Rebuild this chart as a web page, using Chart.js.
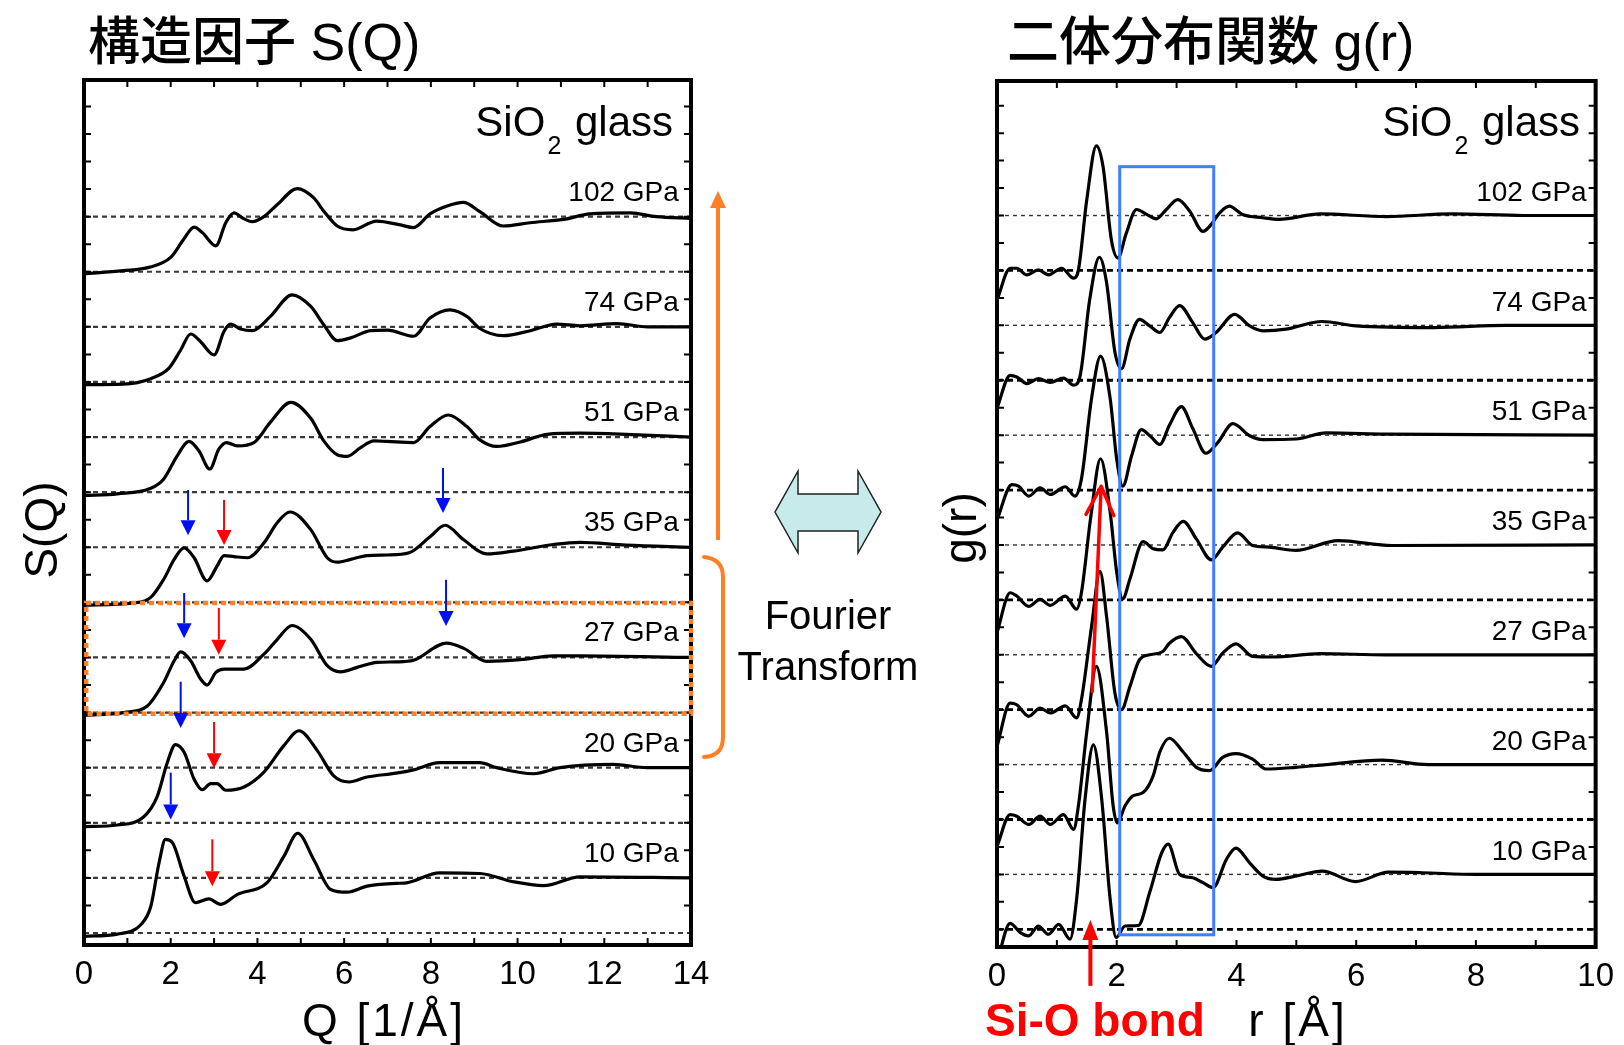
<!DOCTYPE html>
<html lang="ja">
<head>
<meta charset="utf-8">
<script src="https://cdn.jsdelivr.net/npm/chart.js@4.4.1/dist/chart.umd.min.js"></script>
<style>
  html, body { margin: 0; padding: 0; background: #fff; }
  #wrap { position: relative; width: 1624px; height: 1045px; overflow: hidden;
          font-family: "Liberation Sans", Arial, "Noto Sans CJK JP", sans-serif; color: #000; }
  canvas { position: absolute; left: 0; top: 0; }
  svg { position: absolute; left: 0; top: 0; pointer-events: none; }
  .t { position: absolute; white-space: nowrap; }
  .title { font-size: 52px; line-height: 52px; top: 12px; font-family: "Liberation Sans", "Noto Sans CJK JP", sans-serif; }
  .title b { font-weight: 500; font-family: "Noto Sans CJK JP", sans-serif; }
  .glass { font-size: 42px; line-height: 42px; top: 101px; }
  .glass span { font-size: 25px; position: relative; top: 18px; margin: 0 2px 0 2px; }
  .axt { font-size: 46px; line-height: 46px; top: 997px; width: 240px; text-align: center; letter-spacing: 3px; }
  .yt { font-size: 46px; line-height: 46px; width: 200px; text-align: center; transform: rotate(-90deg); }
</style>
</head>
<body>
<div id="wrap">
  <canvas id="sq" width="1624" height="1045"></canvas>
  <canvas id="gr" width="1624" height="1045"></canvas>

  <svg width="1624" height="1045" viewBox="0 0 1624 1045">
    <!-- Fourier transform double arrow -->
    <polygon points="775,512 798,471 798,494 858,494 858,471 881,512 858,553 858,531 798,531 798,553"
             fill="#c6ebea" stroke="#222" stroke-width="1.5" stroke-linejoin="miter"/>
    <!-- orange range arrow -->
    <line x1="718" y1="540" x2="718" y2="206" stroke="#ff7f27" stroke-width="4"/>
    <polygon points="718,191 710,208 726,208" fill="#ff7f27"/>
    <!-- orange brace -->
    <path d="M704,557 Q723,559 723,577 L723,737 Q723,756 704,757" fill="none" stroke="#ff7f27" stroke-width="4" stroke-linecap="round"/>
  </svg>

  <div class="t title" style="left:88px;"><b>構造因子</b> S(Q)</div>
  <div class="t title" style="left:1007px;"><b>二体分布関数</b> g(r)</div>

  <div class="t glass" style="right:951px;">SiO<span>2</span> glass</div>
  <div class="t glass" style="right:44px;">SiO<span>2</span> glass</div>

  <div class="t" style="left:708px;top:590px;width:240px;text-align:center;font-size:40px;line-height:51px;">Fourier<br>Transform</div>

  <div class="t axt" style="left:264px;">Q [1/Å]</div>
  <div class="t axt" style="left:1178px;">r [Å]</div>
  <div class="t" style="left:985px;top:997px;font-size:46px;line-height:46px;font-weight:bold;color:#f00;">Si-O bond</div>

  <div class="t yt" style="left:-59px;top:507px;">S(Q)</div>
  <div class="t yt" style="left:860px;top:505px;">g(r)</div>
</div>

<script>
// Pressures, top to bottom, and vertical offset of each curve
const pressures = ["102 GPa", "74 GPa", "51 GPa", "35 GPa", "27 GPa", "20 GPa", "10 GPa"];
const offsets = [12, 10, 8, 6, 4, 2, 0];

// Tick labels
const qTicks = [0, 2, 4, 6, 8, 10, 12, 14];
const rTicks = [0, 2, 4, 6, 8, 10];

// Structure factor S(Q): [Q, S]
const sq102 = [[0,-0.04],[0.9,0.02],[1.5,0.08],[2.0,0.26],[2.3,0.59],[2.54,0.81],[2.73,0.71],[3.04,0.47],[3.27,0.89],[3.46,1.07],[3.65,0.98],[3.88,0.91],[4.15,1.0],[4.46,1.22],[4.92,1.51],[5.3,1.34],[5.53,1.1],[5.84,0.83],[6.2,0.76],[6.75,0.92],[7.3,0.85],[7.6,0.8],[7.98,1.05],[8.36,1.19],[8.75,1.26],[9.13,1.09],[9.67,0.83],[10.29,0.89],[11.06,0.95],[11.67,1.05],[12.6,1.07],[13.2,1.0],[14,0.97]];
const sq74 = [[0,-0.05],[0.9,-0.04],[1.54,0.06],[1.96,0.25],[2.23,0.58],[2.46,0.87],[2.69,0.73],[3.0,0.49],[3.23,0.92],[3.38,1.05],[3.61,0.96],[3.88,0.93],[4.3,1.19],[4.8,1.58],[5.23,1.37],[5.53,1.04],[5.84,0.75],[6.15,0.8],[6.61,0.93],[7.0,0.94],[7.6,0.83],[7.98,1.16],[8.44,1.31],[8.83,1.19],[9.13,0.97],[9.67,0.84],[10.29,0.93],[10.9,1.05],[11.44,1.02],[12.3,1.06],[13,1.0],[14,1.0]];
const sq51 = [[0,-0.06],[0.77,-0.03],[1.54,0.07],[1.84,0.24],[2.15,0.66],[2.42,0.92],[2.65,0.75],[2.9,0.42],[3.11,0.78],[3.29,0.9],[3.54,0.84],[3.92,0.9],[4.3,1.27],[4.77,1.63],[5.23,1.34],[5.53,0.93],[5.84,0.68],[6.07,0.65],[6.38,0.81],[6.69,0.93],[7.0,0.92],[7.6,0.9],[7.98,1.19],[8.4,1.4],[8.83,1.19],[9.13,0.95],[9.52,0.83],[10.06,0.91],[10.68,1.05],[11.44,1.07],[12.5,1.05],[14,1.0]];
const sq35 = [[0,-0.05],[1.15,-0.01],[1.54,0.09],[1.84,0.42],[2.08,0.78],[2.31,0.99],[2.54,0.81],[2.84,0.39],[3.07,0.66],[3.23,0.85],[3.46,0.83],[3.77,0.81],[4.15,1.08],[4.46,1.45],[4.75,1.64],[5.23,1.32],[5.61,0.81],[5.84,0.73],[6.15,0.78],[6.53,0.85],[7.0,0.86],[7.5,0.9],[7.98,1.19],[8.33,1.4],[8.75,1.14],[9.29,0.88],[9.9,0.93],[10.83,1.05],[11.44,1.09],[12.5,1.04],[14,1.0]];
const sq27 = [[0,-0.05],[0.92,0],[1.46,0.12],[1.84,0.55],[2.08,0.94],[2.23,1.1],[2.46,0.94],[2.69,0.61],[2.84,0.5],[3.04,0.73],[3.23,0.79],[3.69,0.79],[4.15,1.06],[4.46,1.33],[4.8,1.58],[5.23,1.33],[5.61,0.85],[5.92,0.74],[6.3,0.82],[6.76,0.91],[7.2,0.92],[7.6,0.95],[8.36,1.26],[8.75,1.17],[9.29,0.93],[10.06,0.96],[10.83,1.03],[11.44,1.03],[14,1.0]];
const sq20 = [[0,-0.07],[0.77,-0.04],[1.38,0.11],[1.69,0.48],[1.92,1.09],[2.11,1.42],[2.31,1.28],[2.54,0.79],[2.73,0.6],[2.92,0.71],[3.07,0.71],[3.27,0.59],[3.69,0.65],[4.15,0.92],[4.61,1.4],[4.96,1.67],[5.38,1.31],[5.76,0.85],[6.11,0.74],[6.53,0.83],[7.2,0.9],[7.6,0.96],[8.2,1.09],[9.13,1.09],[9.52,1.0],[10.37,0.89],[10.98,1.0],[12.21,1.06],[12.98,1.0],[14,1.0]];
const sq10 = [[0,-0.06],[0.77,-0.02],[1.31,0.15],[1.54,0.48],[1.73,1.27],[1.88,1.7],[2.04,1.64],[2.31,1.03],[2.57,0.55],[2.88,0.62],[3.15,0.52],[3.54,0.7],[4.23,0.92],[4.61,1.39],[4.93,1.81],[5.3,1.33],[5.69,0.79],[6.07,0.74],[6.53,0.85],[7.2,0.9],[7.44,0.91],[8.2,1.09],[9.13,1.08],[9.9,0.93],[10.6,0.86],[11.44,1.02],[14,1.0]];

// Pair distribution function g(r): [r, g]
const gr102 = [[0,-0.54],[0.22,0.04],[0.33,0.04],[0.5,-0.08],[0.69,0.01],[0.86,-0.08],[1.08,0.04],[1.28,-0.14],[1.36,0.01],[1.5,1.29],[1.66,2.27],[1.77,1.9],[1.91,0.56],[2.02,0.23],[2.16,0.68],[2.33,1.11],[2.5,1.02],[2.66,0.94],[2.83,1.11],[3.02,1.29],[3.22,1.08],[3.44,0.71],[3.58,0.84],[3.72,1.05],[3.88,1.17],[4.1,1.02],[4.44,0.96],[4.71,0.93],[5.4,1.03],[6.5,0.98],[7.6,1.03],[8.8,1.0],[10,1.0]];
const gr74 = [[0,-0.51],[0.22,0.09],[0.33,0.06],[0.5,-0.06],[0.69,0.03],[0.89,-0.04],[1.11,0.04],[1.28,-0.09],[1.39,0.09],[1.55,1.48],[1.71,2.24],[1.83,1.78],[1.97,0.51],[2.08,0.21],[2.22,0.75],[2.38,1.11],[2.55,0.99],[2.72,0.87],[2.88,1.14],[3.05,1.36],[3.27,1.05],[3.47,0.75],[3.66,0.87],[3.97,1.2],[4.22,0.99],[4.44,0.9],[4.83,0.93],[5.43,1.07],[6.0,0.99],[7.3,0.96],[8.5,1.0],[10,1.0]];
const gr51 = [[0,-0.54],[0.25,0.1],[0.36,0.07],[0.53,-0.11],[0.72,0.04],[0.89,-0.08],[1.14,0.06],[1.3,-0.11],[1.41,0.2],[1.58,1.67],[1.73,2.44],[1.89,1.67],[2.0,0.56],[2.1,0.07],[2.25,0.63],[2.41,1.1],[2.58,0.96],[2.72,0.83],[2.88,1.18],[3.08,1.52],[3.27,1.12],[3.49,0.67],[3.69,0.87],[3.94,1.21],[4.22,0.99],[4.44,0.92],[4.99,0.93],[5.5,1.04],[6.5,1.02],[10,1.0]];
const gr35 = [[0,-0.6],[0.22,0.13],[0.33,0.07],[0.53,-0.12],[0.72,0.01],[0.89,-0.1],[1.14,0.07],[1.33,-0.17],[1.41,0.13],[1.57,1.54],[1.73,2.57],[1.89,1.6],[2.0,0.5],[2.1,0.02],[2.22,0.38],[2.44,1.06],[2.61,0.93],[2.77,0.91],[2.94,1.23],[3.11,1.43],[3.33,1.11],[3.58,0.73],[3.77,0.96],[4.02,1.22],[4.27,0.99],[4.55,0.96],[4.99,0.9],[5.7,1.08],[6.6,0.99],[10,1.0]];
const gr27 = [[0,-0.67],[0.22,0.12],[0.33,0.09],[0.53,-0.12],[0.72,0.03],[0.89,-0.06],[1.14,0.07],[1.33,-0.15],[1.41,0.18],[1.58,1.52],[1.72,2.52],[1.83,1.7],[1.97,0.3],[2.08,0],[2.22,0.42],[2.38,0.91],[2.55,1.0],[2.77,1.06],[2.88,1.21],[3.08,1.33],[3.33,1.02],[3.58,0.79],[3.77,1.03],[3.99,1.2],[4.27,0.97],[4.6,0.96],[5.4,1.02],[6.5,1.0],[10,1.0]];
const gr20 = [[0,-0.49],[0.22,0.09],[0.33,0.06],[0.53,-0.09],[0.72,0.06],[0.89,-0.09],[1.11,0.09],[1.28,-0.18],[1.36,0.25],[1.5,1.6],[1.66,2.79],[1.83,1.6],[1.94,0.25],[2.01,-0.06],[2.14,0.25],[2.27,0.43],[2.44,0.49],[2.61,0.8],[2.72,1.23],[2.88,1.48],[3.11,1.23],[3.33,0.95],[3.55,0.89],[3.77,1.13],[3.99,1.2],[4.27,1.1],[4.49,0.92],[4.99,0.95],[5.5,1.0],[6.43,1.08],[7.2,1.0],[10,1.0]];
const gr10 = [[0,-0.6],[0.22,0.11],[0.39,-0.06],[0.53,-0.12],[0.69,0.06],[0.86,-0.09],[1.03,0.09],[1.22,-0.18],[1.33,0.55],[1.47,2.36],[1.61,3.36],[1.75,2.36],[1.89,0.55],[1.99,-0.15],[2.14,0.06],[2.36,0.07],[2.55,0.67],[2.75,1.39],[2.86,1.55],[3.05,1.0],[3.27,0.94],[3.44,0.85],[3.61,0.76],[3.83,1.27],[3.99,1.48],[4.22,1.21],[4.44,0.97],[4.66,0.91],[4.99,0.97],[5.43,1.06],[5.99,0.87],[6.54,1.04],[7.1,1.03],[8,1.0],[10,1.0]];

const sqCurves = [sq102, sq74, sq51, sq35, sq27, sq20, sq10];
const grCurves = [gr102, gr74, gr51, gr35, gr27, gr20, gr10];

// Marker arrows on S(Q): [Q, from y, to y] in plot units
const sqBlueArrows = [[2.4,8.04,7.22],[8.28,8.44,7.62],[2.31,6.17,5.35],[8.35,6.41,5.57],[2.23,4.56,3.72],[2.0,2.91,2.06]];
const sqRedArrows = [[3.23,7.86,7.04],[3.11,5.9,5.05],[3.0,3.83,2.99],[2.96,1.7,0.85]];

function arrow(ctx, x0, y0, x1, y1, color, lw, hw, hl) {
  const a = Math.atan2(y1 - y0, x1 - x0);
  const bx = x1 - hl * Math.cos(a), by = y1 - hl * Math.sin(a);
  ctx.strokeStyle = color;
  ctx.fillStyle = color;
  ctx.lineWidth = lw;
  ctx.beginPath();
  ctx.moveTo(x0, y0);
  ctx.lineTo(bx, by);
  ctx.stroke();
  ctx.beginPath();
  ctx.moveTo(x1, y1);
  ctx.lineTo(bx + hw * Math.sin(a), by - hw * Math.cos(a));
  ctx.lineTo(bx - hw * Math.sin(a), by + hw * Math.cos(a));
  ctx.closePath();
  ctx.fill();
}

// Box, inward ticks and pressure labels
function drawFrame(chart, labelX, labelDy) {
  const { ctx, chartArea: a, scales: { x, y } } = chart;
  ctx.save();
  ctx.strokeStyle = "#000";
  ctx.lineWidth = 2;
  const tl = 7;
  x.ticks.forEach((t) => {
    const px = x.getPixelForValue(t.value);
    ctx.beginPath();
    ctx.moveTo(px, a.top);
    ctx.lineTo(px, a.top + tl);
    ctx.moveTo(px, a.bottom);
    ctx.lineTo(px, a.bottom - tl);
    ctx.stroke();
  });
  y.ticks.forEach((t) => {
    if (Math.abs(t.value * 2 - Math.round(t.value * 2)) > 1e-6) return;
    const py = y.getPixelForValue(t.value);
    ctx.beginPath();
    ctx.moveTo(a.left, py);
    ctx.lineTo(a.left + tl, py);
    ctx.moveTo(a.right, py);
    ctx.lineTo(a.right - tl, py);
    ctx.stroke();
  });
  ctx.lineWidth = 4;
  ctx.strokeRect(a.left, a.top, a.right - a.left, a.bottom - a.top);

  ctx.fillStyle = "#000";
  ctx.font = '28px "Liberation Sans", Arial, sans-serif';
  ctx.textAlign = "right";
  ctx.textBaseline = "middle";
  pressures.forEach((p, i) => {
    ctx.fillText(p, x.getPixelForValue(labelX), y.getPixelForValue(offsets[i] + labelDy));
  });
  ctx.restore();
}

function buildDatasets(curves, xMax, zeroStyle, oneStyle) {
  const ds = [];
  curves.forEach((c, i) => {
    const off = offsets[i];
    ds.push({
      data: c.map((p) => ({ x: p[0], y: p[1] + off })),
      borderColor: "#000", borderWidth: 3.2, pointRadius: 0,
      cubicInterpolationMode: "monotone", order: 0,
    });
    ds.push(Object.assign({ data: [{ x: 0, y: off }, { x: xMax, y: off }], pointRadius: 0, order: 1 }, zeroStyle));
    ds.push(Object.assign({ data: [{ x: 0, y: off + 1 }, { x: xMax, y: off + 1 }], pointRadius: 0, order: 1 }, oneStyle));
  });
  return ds;
}

function makeOptions(xMax, yMin, yMax, tickLabels, pad, axisH) {
  return {
    responsive: false, animation: false, devicePixelRatio: 1,
    layout: { padding: pad },
    plugins: { legend: { display: false }, tooltip: { enabled: false } },
    scales: {
      x: {
        type: "linear", min: 0, max: xMax, position: "bottom",
        afterFit: (s) => { s.height = axisH; },
        grid: { display: false, drawTicks: false }, border: { display: false },
        ticks: {
          stepSize: 1, autoSkip: false, maxRotation: 0, padding: 10, color: "#000",
          font: { family: '"Liberation Sans", Arial, sans-serif', size: 33 },
          callback: (v) => (tickLabels.includes(v) ? String(v) : ""),
        },
      },
      y: {
        type: "linear", min: yMin, max: yMax, position: "left",
        afterFit: (s) => { s.width = 0; },
        grid: { display: false }, border: { display: false },
        ticks: { display: false, stepSize: 0.5 },
      },
    },
  };
}

// Left: S(Q)
new Chart(document.getElementById("sq"), {
  type: "line",
  data: {
    datasets: buildDatasets(sqCurves, 14,
      { borderColor: "#3a3a3a", borderWidth: 2.2, borderDash: [5, 4] },
      { borderColor: "#3a3a3a", borderWidth: 2.2, borderDash: [5, 4] }),
  },
  options: makeOptions(14, -0.218, 15.48, qTicks, { left: 84, right: 933, top: 80, bottom: 0 }, 100),
  plugins: [{
    id: "sqDecor",
    afterDraw(chart) {
      const { ctx, scales: { x, y } } = chart;
      drawFrame(chart, 13.72, 1.43);
      ctx.save();
      // dotted orange box around 27 GPa
      ctx.strokeStyle = "#ff7f27";
      ctx.lineWidth = 4.5;
      ctx.setLineDash([5, 4]);
      const l = x.getPixelForValue(0.05), r = x.getPixelForValue(14);
      const t = y.getPixelForValue(5.99), b = y.getPixelForValue(3.98);
      ctx.strokeRect(l, t, r - l, b - t);
      ctx.setLineDash([]);
      sqBlueArrows.forEach((m) => arrow(ctx, x.getPixelForValue(m[0]), y.getPixelForValue(m[1]),
        x.getPixelForValue(m[0]), y.getPixelForValue(m[2]), "#0010f0", 2, 7.5, 15));
      sqRedArrows.forEach((m) => arrow(ctx, x.getPixelForValue(m[0]), y.getPixelForValue(m[1]),
        x.getPixelForValue(m[0]), y.getPixelForValue(m[2]), "#ff0000", 2, 7.5, 15));
      ctx.restore();
    },
  }],
});

// Right: g(r)
new Chart(document.getElementById("gr"), {
  type: "line",
  data: {
    datasets: buildDatasets(grCurves, 10,
      { borderColor: "#000", borderWidth: 2.8, borderDash: [6, 4] },
      { borderColor: "#333", borderWidth: 1.4, borderDash: [4, 4] }),
  },
  options: makeOptions(10, -0.322, 15.45, rTicks, { left: 997, right: 26, top: 81, bottom: 0 }, 98),
  plugins: [{
    id: "grDecor",
    afterDraw(chart) {
      const { ctx, scales: { x, y } } = chart;
      drawFrame(chart, 9.85, 1.41);
      ctx.save();
      // blue box over the second-neighbour region
      ctx.strokeStyle = "#3f7fff";
      ctx.lineWidth = 3;
      const l = x.getPixelForValue(2.05), r = x.getPixelForValue(3.62);
      const t = y.getPixelForValue(13.89), b = y.getPixelForValue(-0.1);
      ctx.strokeRect(l, t, r - l, b - t);
      // Si-O bond arrow
      arrow(ctx, x.getPixelForValue(1.56), y.getPixelForValue(-1.03),
        x.getPixelForValue(1.56), y.getPixelForValue(0.17), "#ff0000", 4, 8, 20);
      // long red arrow across the first peak
      const x0 = x.getPixelForValue(1.59), y0 = y.getPixelForValue(4.33);
      const x1 = x.getPixelForValue(1.74), y1 = y.getPixelForValue(8.07);
      ctx.strokeStyle = "#ff0000";
      ctx.lineWidth = 3.5;
      ctx.lineCap = "round";
      ctx.beginPath();
      ctx.moveTo(x0, y0);
      ctx.lineTo(x1, y1);
      const a = Math.atan2(y1 - y0, x1 - x0);
      [0.45, -0.45].forEach((d) => {
        ctx.moveTo(x1, y1);
        ctx.lineTo(x1 - 32 * Math.cos(a + d), y1 - 32 * Math.sin(a + d));
      });
      ctx.stroke();
      ctx.restore();
    },
  }],
});
</script>
</body>
</html>
